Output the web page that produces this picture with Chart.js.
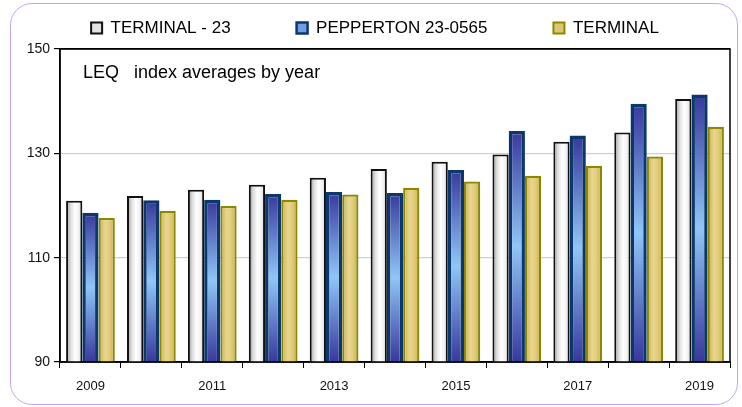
<!DOCTYPE html>
<html>
<head>
<meta charset="utf-8">
<script src="https://cdn.jsdelivr.net/npm/chart.js@4/dist/chart.umd.min.js"></script>
<style>
  html, body { margin: 0; padding: 0; background: #fff; }
  #wrap { position: relative; width: 742px; height: 407px; }
  #frame {
    position: absolute; left: 10px; top: 3px; width: 726px; height: 400px;
    border: 1.5px solid #c9a6f2; border-radius: 22px; pointer-events: none;
  }
  canvas { position: absolute; left: 0; top: 0; }
</style>
</head>
<body>
<div id="wrap">
  <div id="frame"></div>
  <canvas id="chart" width="742" height="407"></canvas>
</div>
<script>
// Datos
const years = ['2009', '2010', '2011', '2012', '2013', '2014', '2015', '2016', '2017', '2018', '2019'];
const terminal23 = [120.9, 121.8, 123.0, 124.0, 125.3, 127.0, 128.4, 129.8, 132.2, 134.0, 140.4];
const pepperton = [118.6, 121.0, 121.1, 122.2, 122.6, 122.4, 126.8, 134.3, 133.4, 139.5, 141.3];
const terminal = [117.6, 119.0, 119.9, 121.1, 122.1, 123.4, 124.6, 125.7, 127.6, 129.4, 135.1];
const yTicks = [90, 110, 130, 150];
const chartTitle = 'LEQ   index averages by year';

const FONT = "'Liberation Sans', Arial, sans-serif";

// Degradados por barra (se calculan con las escalas y la geometría del elemento)
function barFill(kind) {
  const fallback = { white: '#eeeeee', blue: '#6f9fe0', gold: '#dcc674' }[kind];
  return (c) => {
    const el = c.element;
    if (c.type !== 'data' || !el || el.x == null || isNaN(el.x) || !el.width) return fallback;
    const ctx = c.chart.ctx;
    const ys = c.chart.scales.y;
    const top = ys.getPixelForValue(c.raw);
    const base = ys.getPixelForValue(ys.min);
    const l = el.x - el.width / 2, r = el.x + el.width / 2;
    let g;
    if (kind === 'white') {
      g = ctx.createLinearGradient(l, 0, r, 0);
      g.addColorStop(0, '#9a9a9a');
      g.addColorStop(0.3, '#e2e2e2');
      g.addColorStop(0.55, '#ffffff');
      g.addColorStop(0.8, '#f0f0f0');
      g.addColorStop(1, '#b8b8b8');
    } else if (kind === 'blue') {
      g = ctx.createLinearGradient(0, top, 0, base);
      g.addColorStop(0, '#38379c');
      g.addColorStop(0.5, '#8fc6f7');
      g.addColorStop(1, '#38379c');
    } else {
      g = ctx.createLinearGradient(l, 0, r, 0);
      g.addColorStop(0, '#c9ae52');
      g.addColorStop(0.4, '#e8d68e');
      g.addColorStop(0.65, '#e2cd7c');
      g.addColorStop(1, '#c8ad50');
    }
    return g;
  };
}

// Título dentro del área del gráfico y marco negro
const framePlugin = {
  id: 'framePlugin',
  beforeDraw(chart) {
    // coloca la leyenda en la parte superior
    const lg = chart.legend;
    lg.top = 28 - 66 - 8.5;
    lg.left += 5;
    lg.right += 5;
  },
  afterDatasetsDraw(chart) {
    const { ctx, chartArea: a } = chart;
    ctx.save();
    ctx.strokeStyle = '#000';
    ctx.lineWidth = 1.5;
    ctx.strokeRect(a.left, a.top, a.right - a.left, a.bottom - a.top);
    ctx.fillStyle = '#000';
    ctx.font = '18px ' + FONT;
    ctx.textBaseline = 'middle';
    ctx.fillText(chartTitle, a.left + 23, a.top + 24);
    ctx.restore();
  }
};

const chart = new Chart(document.getElementById('chart'), {
  type: 'bar',
  data: {
    labels: years,
    datasets: [
      { label: 'TERMINAL - 23', data: terminal23, backgroundColor: barFill('white'), borderColor: '#111111', borderWidth: 2 },
      { label: 'PEPPERTON 23-0565', data: pepperton, backgroundColor: barFill('blue'), borderColor: '#0b386c', borderWidth: 3.5 },
      { label: 'TERMINAL', data: terminal, backgroundColor: barFill('gold'), borderColor: '#8a8800', borderWidth: 2.2 }
    ]
  },
  options: {
    responsive: false,
    animation: false,
    events: [],
    layout: { padding: { left: 10, right: 12, top: 0, bottom: 0 } },
    datasets: { bar: { categoryPercentage: 0.8, barPercentage: 1.0 } },
    plugins: {
      tooltip: { enabled: false },
      legend: {
        position: 'top',
        maxHeight: 49,
        labels: {
          padding: 66,
          boxWidth: 11,
          boxHeight: 11,
          color: '#000',
          font: { family: FONT, size: 17 },
          generateLabels: () => [
            { text: 'TERMINAL - 23', fillStyle: '#e2e2e2', strokeStyle: '#111111', lineWidth: 2, datasetIndex: 0 },
            { text: 'PEPPERTON 23-0565', fillStyle: '#6f9fe0', strokeStyle: '#0b386c', lineWidth: 2.5, datasetIndex: 1 },
            { text: 'TERMINAL', fillStyle: '#dcc674', strokeStyle: '#8a8800', lineWidth: 2, datasetIndex: 2 }
          ]
        }
      }
    },
    scales: {
      x: {
        afterFit: (s) => { s.height = 45; },
        grid: { offset: true, drawOnChartArea: false, tickLength: 6, color: '#000', lineWidth: 1 },
        border: { color: '#000', width: 1.5 },
        ticks: {
          autoSkip: false,
          maxRotation: 0,
          padding: 11,
          color: '#111',
          font: { family: FONT, size: 13 },
          callback: (v, i) => (i % 2 === 0 ? years[i] : '')
        }
      },
      y: {
        min: 90,
        max: 150,
        afterFit: (s) => { s.width = 50; },
        afterBuildTicks: (s) => { s.ticks = yTicks.map(v => ({ value: v })); },
        grid: {
          tickLength: 6,
          tickColor: '#000',
          lineWidth: 1.2,
          color: (c) => (c.tick && (c.tick.value === 110 || c.tick.value === 130) ? '#cfcfcf' : '#000')
        },
        border: { color: '#000', width: 1.5 },
        ticks: { padding: 4, color: '#111', font: { family: FONT, size: 14 } }
      }
    }
  },
  plugins: [framePlugin]
});

// segunda pasada para que los degradados usen la geometría de cada barra
chart.update('none');
</script>
</body>
</html>
